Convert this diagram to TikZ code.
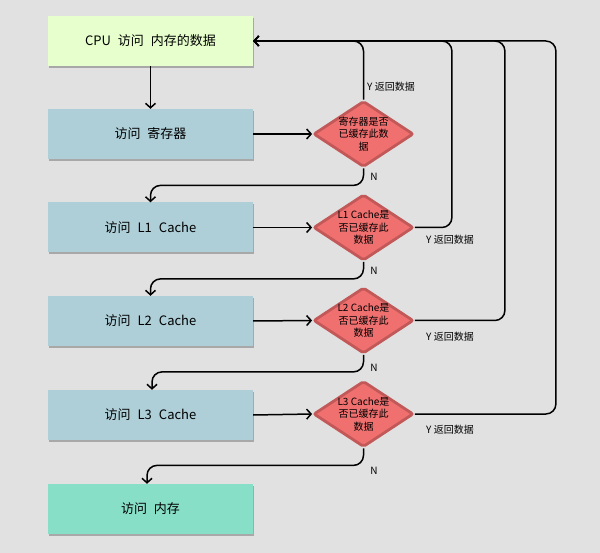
\documentclass[tikz,border=0pt]{standalone}
\usepackage{fontspec}
\setmainfont{Noto Sans CJK SC}
\usetikzlibrary{arrows.meta,shapes.geometric,shadows}
\definecolor{bgc}{HTML}{E1E1E1}
\definecolor{cpuc}{HTML}{E6FFCC}
\definecolor{bluec}{HTML}{AECFD8}
\definecolor{memc}{HTML}{88DFC8}
\definecolor{dfill}{HTML}{F07070}
\definecolor{ddraw}{HTML}{C25858}
\tikzset{
  box/.style={rectangle, minimum width=205pt, minimum height=50pt, inner sep=0pt,
    font=\fontsize{13}{15}\selectfont,
    drop shadow={shadow xshift=0.8pt, shadow yshift=-2pt, opacity=0.25, fill=black}},
  dia/.style={diamond, minimum width=100pt, minimum height=66pt, inner sep=0pt,
    fill=dfill, draw=ddraw, line width=2.8pt, rounded corners=2pt},
  dtext/.style={align=center, font=\fontsize{10}{12.5}\selectfont, inner sep=0pt},
  lab/.style={font=\fontsize{10}{12}\selectfont, inner sep=0pt},
  arr/.style={line width=1.5pt, -{Straight Barb[length=4.5pt,width=10pt,line width=1.5pt]}},
  conn/.style={arr, rounded corners=10pt},
}
\newcommand{\gap}{\hspace{7pt}}
\begin{document}
\begin{tikzpicture}[x=1pt,y=-1pt]
\path[fill=bgc, use as bounding box] (0,0) rectangle (600,553);
\node[box, fill=cpuc] (cpu) at (150.5,41) {CPU\gap 访问\gap 内存的数据};
\node[box, fill=bluec] (reg) at (150.5,134) {访问\gap 寄存器};
\node[box, fill=bluec] (l1) at (150.5,227.5) {访问\gap L1\gap Cache};
\node[box, fill=bluec] (l2) at (150.5,321) {访问\gap L2\gap Cache};
\node[box, fill=bluec] (l3) at (150.5,415) {访问\gap L3\gap Cache};
\node[box, fill=memc] (mem) at (150.5,509) {访问\gap 内存};

\node[dia] (dr) at (363.5,134) {};
\node[dia] (d1) at (363.5,227.5) {};
\node[dia] (d2) at (363.5,320.5) {};
\node[dia] (d3) at (363.5,414) {};
\node[dtext] (tr) at (dr.center) {寄存器是否\\已缓存此数\\据};
\node[dtext] (t1) at (d1.center) {L1 Cache是\\否已缓存此\\数据};
\node[dtext] (t2) at (d2.center) {L2 Cache是\\否已缓存此\\数据};
\node[dtext] (t3) at (d3.center) {L3 Cache是\\否已缓存此\\数据};

% straight arrows
\draw[arr] (cpu.south) -- (reg.north);
\draw[arr] (reg.east) -- (dr.west);
\draw[arr] (l1.east) -- (d1.west);
\draw[arr] (l2.east) -- (d2.west);
\draw[arr] (l3.east) -- (d3.west);

% N arrows
\draw[conn] (dr.south) -- ++(0,17) -| (l1.north);
\draw[conn] (d1.south) -- ++(0,17) -| (l2.north);
\draw[conn] (d2.south) -- ++(0,17) -| ([xshift=1.5pt]l3.north);
\draw[conn] (d3.south) -- ++(0,17) -| ([xshift=-3.5pt]mem.north);

% Y return arrows
\draw[conn] (dr.north) |- (cpu.east);
\draw[conn] (d1.east) -- ++(37,0) |- (cpu.east);
\draw[conn] (d2.east) -- ++(90,0) |- (cpu.east);
\draw[conn] (d3.east) -- ++(141,0) |- (cpu.east);

% labels
\node[lab, anchor=west] (yr) at (367,87) {Y 返回数据};
\node[lab, anchor=west] (y1) at (426,240) {Y 返回数据};
\node[lab, anchor=west] (y2) at (426,337) {Y 返回数据};
\node[lab, anchor=west] (y3) at (426,430) {Y 返回数据};
\node[lab] (nr) at (374,177) {N};
\node[lab] (n1) at (374,271) {N};
\node[lab] (n2) at (374,368) {N};
\node[lab] (n3) at (374,471) {N};
\end{tikzpicture}
\end{document}
